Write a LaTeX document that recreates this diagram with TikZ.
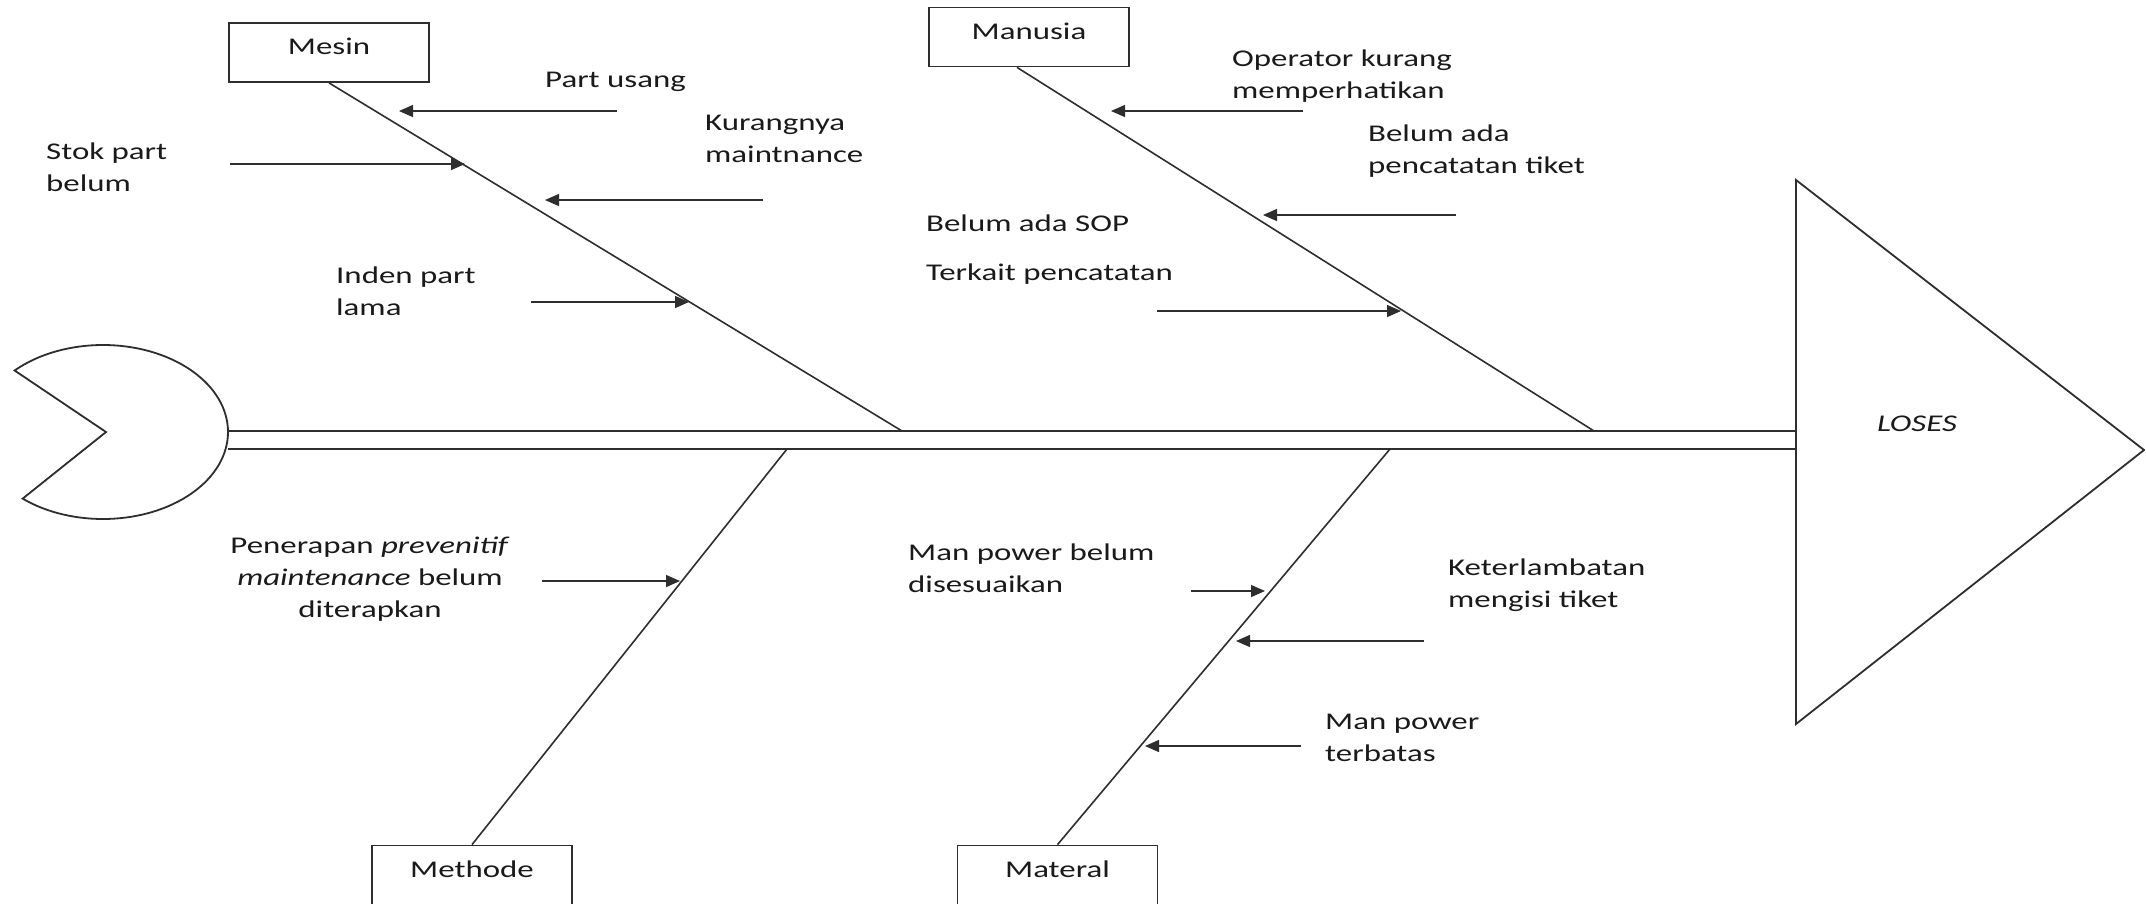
\documentclass[tikz,border=0pt]{standalone}
\usepackage{fontspec}
\setmainfont{Carlito}[FakeStretch=1.37]
\usetikzlibrary{arrows.meta,calc}
\definecolor{ink}{HTML}{1A1A1A}
\definecolor{linec}{HTML}{2E2E2E}
\begin{document}
\begin{tikzpicture}[x=1pt,y=-1pt,
  every node/.style={font=\fontsize{24}{32}\selectfont, text=ink},
  catbox/.style={draw=linec, line width=1.8pt, minimum width=200pt, minimum height=59pt, inner sep=0pt, text height=18pt, text depth=14pt},
  bone/.style={draw=linec, line width=1.6pt},
  spine/.style={draw=linec, line width=1.8pt},
  cause/.style={draw=linec, line width=1.4pt, -{Triangle[length=14pt,width=12pt]}},
  lbl/.style={anchor=west, align=left, inner sep=0pt},
]
\useasboundingbox (0,0) rectangle (2146,903);
\fill[white] (0,0) rectangle (2146,903);

% head
\draw[spine] (106,432) -- ($(103,432)+(-135:125 and 87)$)
  arc[start angle=-135, end angle=130, x radius=125, y radius=87] -- cycle;
% tail
\draw[spine] (1796,180) -- (2144,450) -- (1796,724) -- cycle;
\node (loses) at (1917,424) {\textit{LOSES}};

% spine
\coordinate (sp1) at (228,431); \coordinate (sp2) at (1796,431);
\coordinate (sp3) at (228,449); \coordinate (sp4) at (1796,449);
\draw[spine] (sp1) -- (sp2);
\draw[spine] (sp3) -- (sp4);

% category boxes
\node[catbox] (mesin) at (329,52.5) {Mesin};
\node[catbox] (manusia) at (1029,37) {Manusia};
\node[catbox] (methode) at (472,875) {Methode};
\node[catbox] (materal) at (1057.5,875) {Materal};

% bones
\coordinate (jm) at (902,431);
\coordinate (jh) at (1594,431);
\coordinate (jt) at (787,449);
\coordinate (jl) at (1390,449);
\draw[bone] (mesin.south) -- (jm);
\draw[bone] ([xshift=-12pt]manusia.south) -- (jh);
\draw[bone] (methode.north) -- (jt);
\draw[bone] (materal.north) -- (jl);

% labels
\node[lbl] (t1) at (545,82) {Part usang};
\node[lbl] (t2) at (705,139) {Kurangnya\\maintnance};
\node[lbl] (t3) at (46,167) {Stok part\\belum};
\node[lbl] (t4) at (336,291) {Inden part\\lama};
\node[lbl] (t5) at (1232,76) {Operator kurang\\memperhatikan};
\node[lbl] (t6) at (1368,151) {Belum ada\\pencatatan tiket};
\node[lbl] (t7) at (926,250) {Belum ada SOP\\[17pt]Terkait pencatatan};
\node[align=center, inner sep=0pt] (t8) at (370,579) {Penerapan \textit{prevenitif}\\\textit{maintenance} belum\\diterapkan};
\node[lbl] (t9) at (908,568) {Man power belum\\disesuaikan};
\node[lbl] (t10) at (1448,585) {Keterlambatan\\mengisi tiket};
\node[lbl] (t11) at (1325,738) {Man power\\terbatas};

% cause arrows
\coordinate (a1s) at (617,111);  \coordinate (a1e) at (399,111);
\coordinate (a2s) at (763,200);  \coordinate (a2e) at (545,200);
\coordinate (a3s) at (230,164);  \coordinate (a3e) at (465,164);
\coordinate (a4s) at (531,302);  \coordinate (a4e) at (689,302);
\coordinate (a5s) at (1303,111); \coordinate (a5e) at (1111,111);
\coordinate (a6s) at (1456,215); \coordinate (a6e) at (1263,215);
\coordinate (a7s) at (1157,311); \coordinate (a7e) at (1401,311);
\coordinate (a8s) at (542,581);  \coordinate (a8e) at (680,581);
\coordinate (a9s) at (1191,591); \coordinate (a9e) at (1265,591);
\coordinate (a10s) at (1424,641); \coordinate (a10e) at (1236,641);
\coordinate (a11s) at (1301,746); \coordinate (a11e) at (1145,746);
\foreach \i in {1,...,11} { \draw[cause] (a\i s) -- (a\i e); }
\end{tikzpicture}
\end{document}
